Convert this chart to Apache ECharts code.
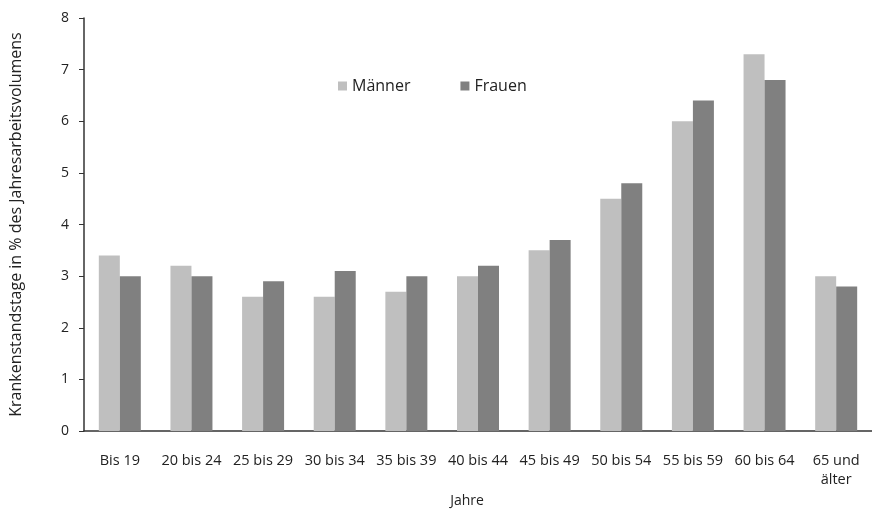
<!DOCTYPE html>
<html>
<head>
<meta charset="utf-8">
<script src="https://cdn.jsdelivr.net/npm/echarts@6/dist/echarts.min.js"></script>
<style>html,body{margin:0;padding:0;background:#fff;overflow:hidden}#c{width:872px;height:513px}</style>
</head>
<body>
<div id="c"></div>
<script>
var categories = ['Bis 19','20 bis 24','25 bis 29','30 bis 34','35 bis 39','40 bis 44','45 bis 49','50 bis 54','55 bis 59','60 bis 64','65 und\nälter'];
var maenner = [3.4, 3.2, 2.6, 2.6, 2.7, 3.0, 3.5, 4.5, 6.0, 7.3, 3.0];
var frauen  = [3.0, 3.0, 2.9, 3.1, 3.0, 3.2, 3.7, 4.8, 6.4, 6.8, 2.8];
var yTicks = [0,1,2,3,4,5,6,7,8];

var font = '"Open Sans", sans-serif';
var chart = echarts.init(document.getElementById('c'));
chart.setOption({
  animation: false,
  textStyle: {fontFamily: font},
  legend: {
    left: 333, top: 73,
    itemWidth: 9, itemHeight: 9, itemGap: 50,
    icon: 'rect',
    textStyle: {fontSize: 16, color: '#222', fontFamily: font},
    data: ['Männer','Frauen']
  },
  grid: {left: 82, width: 801, top: 18, height: 422, containLabel: false},
  xAxis: {
    type: 'category',
    data: categories,
    name: 'Jahre',
    nameLocation: 'middle',
    nameGap: 62,
    nameTextStyle: {fontSize: 14, color: '#222', fontFamily: font, padding: [0, 22, 0, 0]},
    axisLine: {lineStyle: {color: '#333', width: 1.5}},
    axisTick: {show: false},
    axisLabel: {fontSize: 14.5, color: '#222', margin: 20, interval: 0, lineHeight: 19, fontFamily: font}
  },
  yAxis: {
    type: 'value',
    min: 0, max: 8, interval: 1,
    name: 'Krankenstandstage in % des Jahresarbeitsvolumens',
    nameLocation: 'middle',
    nameGap: 60,
    nameTextStyle: {fontSize: 16, color: '#222', fontFamily: font},
    axisLine: {show: true, lineStyle: {color: '#333', width: 1.5}},
    axisTick: {show: true, length: 5, lineStyle: {color: '#333'}},
    splitLine: {show: false},
    axisLabel: {fontSize: 14, color: '#222', margin: 15, fontFamily: font,
      formatter: function(v){ return yTicks.indexOf(v) >= 0 ? String(v) : ''; }}
  },
  series: [
    {name: 'Männer', type: 'bar', data: maenner, barWidth: 21, barGap: '0%',
     itemStyle: {color: '#BFBFBF'}},
    {name: 'Frauen', type: 'bar', data: frauen, barWidth: 21, barGap: '0%',
     itemStyle: {color: '#808080'}}
  ]
});
</script>
</body>
</html>
